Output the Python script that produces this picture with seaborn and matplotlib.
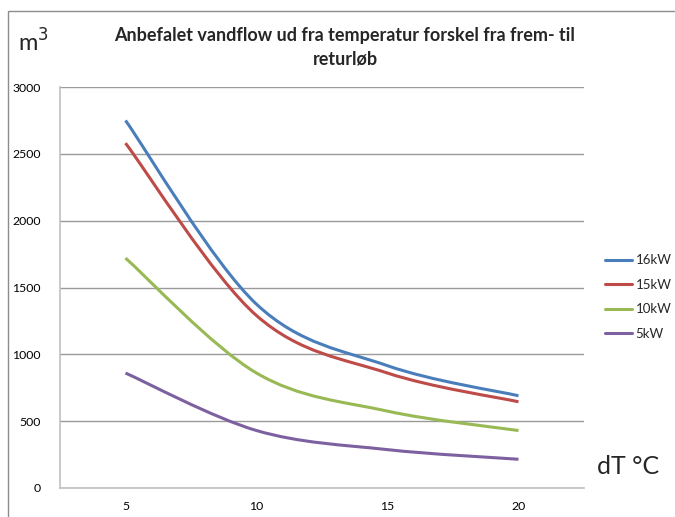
import numpy as np
import pandas as pd
import seaborn as sns
import matplotlib
matplotlib.use("Agg")
import matplotlib.pyplot as plt
from matplotlib.path import Path
from matplotlib.patches import PathPatch, Rectangle
from matplotlib.lines import Line2D

# data
dT = [5, 10, 15, 20]
flow_16kw = [2750, 1375, 915, 690]
flow_15kw = [2580, 1290, 860, 645]
flow_10kw = [1720, 860, 575, 430]
flow_5kw = [860, 430, 287, 215]
series_names = ["16kW", "15kW", "10kW", "5kW"]
colors = ["#4A7EBB", "#BE4B48", "#98B954", "#7D60A0"]

df = pd.DataFrame({
    "dT": dT * 4,
    "flow": flow_16kw + flow_15kw + flow_10kw + flow_5kw,
    "effekt": sum([[n] * 4 for n in series_names], []),
})

sns.set_theme(style="white")
plt.rcParams["font.family"] = ["Lato", "DejaVu Sans"]

W, H = 675, 517
fig = plt.figure(figsize=(W / 100, H / 100), dpi=100)
ax = fig.add_axes([60 / W, 1 - 488 / H, 524 / W, 401 / H])

sns.lineplot(data=df, x="dT", y="flow", hue="effekt", hue_order=series_names,
             palette=colors, legend=False, ax=ax)


def smooth_path(xs, ys):
    # excel style smoothed line: bezier segments through the points
    pts = np.column_stack([xs, ys]).astype(float)
    verts = [pts[0]]
    codes = [Path.MOVETO]
    n = len(pts)
    for i in range(n - 1):
        p0 = pts[max(i - 1, 0)]
        p1 = pts[i]
        p2 = pts[i + 1]
        p3 = pts[min(i + 2, n - 1)]
        c1 = p1 + (p2 - p0) / 6
        c2 = p2 - (p3 - p1) / 6
        verts += [c1, c2, p2]
        codes += [Path.CURVE4] * 3
    return Path(verts, codes)


# swap the straight seaborn segments for smoothed curves
for line, col in zip(list(ax.lines), colors):
    xs, ys = line.get_xdata(), line.get_ydata()
    line.set_visible(False)
    ax.add_patch(PathPatch(smooth_path(xs, ys), fill=False, edgecolor=col,
                           lw=2.2, capstyle="butt", joinstyle="round"))

ax.set_xlim(2.5, 22.5)
ax.set_ylim(0, 3000)
ax.set_xticks(dT)
ax.set_yticks(range(0, 3001, 500))
ax.yaxis.grid(True, color="#9a9a9a", lw=1)
ax.set_axisbelow(True)
ax.set_xlabel("")
ax.set_ylabel("")
for s in ["top", "right"]:
    ax.spines[s].set_visible(False)
for s in ["left", "bottom"]:
    ax.spines[s].set_color("#c0c0c0")
    ax.spines[s].set_linewidth(1.2)
ax.tick_params(axis="y", length=0, pad=14, labelsize=8.8, labelcolor="#000000")
ax.tick_params(axis="x", length=0, pad=9, labelsize=8.8, labelcolor="#000000")

handles = [Line2D([], [], color=c, lw=2.2) for c in colors]
fig.legend(handles, series_names, loc="upper left",
           bbox_to_anchor=(600 / W, 1 - 249 / H), frameon=False,
           fontsize=9.5, handlelength=2.0, handletextpad=0.3,
           labelspacing=0.95, borderaxespad=0)

fig.text(345 / W, 1 - 47 / H, "Anbefalet vandflow ud fra temperatur forskel fra frem- til\nreturløb",
         ha="center", va="center", fontsize=13, fontweight="bold", linespacing=1.45)
fig.text(18 / W, 1 - 42 / H, "m$^3$", ha="left", va="center", fontsize=17)
fig.text(597 / W, 1 - 466 / H, "dT °C", ha="left", va="center", fontsize=18)

# outer chart border
fig.patches.append(Rectangle((8 / W, -0.1), 1.2, 1 - 11 / H + 0.1,
                             transform=fig.transFigure, fill=False,
                             edgecolor="#8c8c8c", lw=1))

fig.savefig("out.png", dpi=100)
